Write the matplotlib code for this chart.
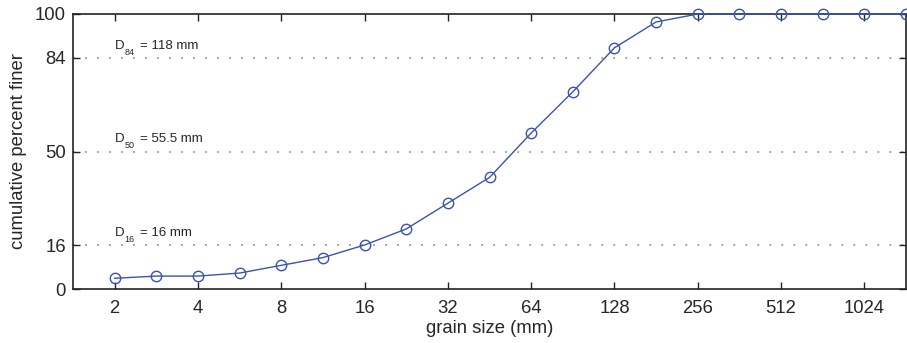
import numpy as np
import matplotlib
matplotlib.use("Agg")
import matplotlib.pyplot as plt
from matplotlib.transforms import offset_copy

plt.rcParams['font.family'] = ['Liberation Sans', 'DejaVu Sans']

# Sieve sizes (mm) and cumulative percent finer
grain_size = [2, 2.83, 4, 5.66, 8, 11.3, 16, 22.6, 32, 45.3, 64, 90.5,
              128, 181, 256, 362, 512, 724, 1024, 1448]
percent_finer = [3.9, 4.7, 4.7, 5.8, 8.6, 11.4, 16.0, 21.8, 31.2, 40.6, 56.7, 71.7,
                 87.7, 97.1, 100, 100, 100, 100, 100, 100]

x_ticks = [2, 4, 8, 16, 32, 64, 128, 256, 512, 1024]
y_ticks = [0, 16, 50, 84, 100]

percentiles = [16, 50, 84]
d_subscripts = ['16', '50', '84']
d_values = ['= 16 mm', '= 55.5 mm', '= 118 mm']

fig = plt.figure(figsize=(9.07, 3.43), dpi=100)
ax = fig.add_axes([73/907, 1 - 289/343, (906 - 73)/907, (289 - 14)/343])

line_color = '#3a54ae'
text_color = '#262626'

ax.plot(grain_size, percent_finer, color=line_color, linewidth=1.0,
        marker='o', markersize=7.5, markerfacecolor='none',
        markeredgecolor=line_color, markeredgewidth=1.0, zorder=3, clip_on=False)

ax.set_xscale('log', base=2)
ax.set_xlim(2 ** 0.5, 2 ** 10.5)
ax.set_ylim(0, 100)
ax.set_xticks(x_ticks)
ax.set_xticklabels([str(t) for t in x_ticks])
ax.xaxis.set_minor_locator(matplotlib.ticker.NullLocator())
ax.set_yticks(y_ticks)

ax.tick_params(axis='both', direction='in', length=5, width=1.0,
               top=True, right=True, labelsize=13.3, colors=text_color)
ax.tick_params(axis='x', pad=8)
ax.tick_params(axis='y', pad=5)
ax.tick_params(axis='both', color='#222222')
for s in ax.spines.values():
    s.set_linewidth(1.2)
    s.set_color('#222222')

ax.set_xlabel('grain size (mm)', fontsize=13.3, color=text_color, labelpad=2)
ax.set_ylabel('cumulative percent finer', fontsize=13.3, color=text_color, labelpad=6)

# Percentile reference lines with D-value labels (subscript drawn as its own text)
fig.canvas.draw()
renderer = fig.canvas.get_renderer()
for p, sub, val in zip(percentiles, d_subscripts, d_values):
    ax.axhline(p, color='#9a9a9a', linestyle=(0, (1, 5.65)), linewidth=1.3, zorder=1)
    t_d = ax.text(2, p + 3.4, 'D', fontsize=9.5, color=text_color,
                  ha='left', va='baseline')
    w_d = t_d.get_window_extent(renderer).width
    t_s = ax.text(2, p + 3.4, sub, fontsize=6.5, color=text_color, ha='left', va='baseline',
                  transform=offset_copy(ax.transData, fig=fig, x=w_d + 0.5,
                                        y=-6, units='dots'))
    w_s = t_s.get_window_extent(renderer).width
    ax.text(2, p + 3.4, val, fontsize=9.5, color=text_color, ha='left', va='baseline',
            transform=offset_copy(ax.transData, fig=fig, x=w_d + 0.5 + w_s + 5,
                                  y=0, units='dots'))

fig.savefig('out.png', dpi=100)
